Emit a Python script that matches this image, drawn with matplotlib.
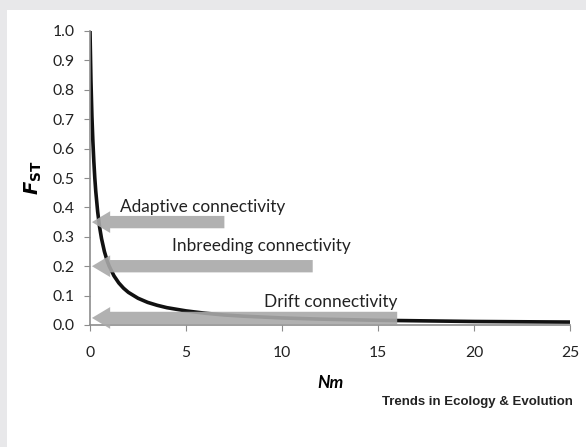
import matplotlib
matplotlib.use("Agg")
import matplotlib.pyplot as plt
from matplotlib.patches import FancyArrow

# values
nm = [0, 0.05, 0.1, 0.15, 0.2, 0.25, 0.3, 0.4, 0.5, 0.6, 0.75, 0.9, 1, 1.25, 1.5, 1.75,
      2, 2.5, 3, 3.5, 4, 5, 6, 7, 8, 10, 12, 15, 20, 25]
fst = [1.0, 0.83, 0.71, 0.625, 0.556, 0.5, 0.455, 0.385, 0.333, 0.294, 0.25, 0.217,
       0.2, 0.167, 0.143, 0.125, 0.111, 0.091, 0.077, 0.067, 0.059, 0.048, 0.04,
       0.034, 0.03, 0.024, 0.02, 0.016, 0.012, 0.01]

# arrows: label, Fst level, tail end (Nm), label position
arrow_labels = ["Adaptive connectivity", "Inbreeding connectivity", "Drift connectivity"]
arrow_levels = [0.35, 0.20, 0.024]
arrow_ends = [7.0, 11.6, 16.0]
label_x = [5.85, 8.9, 12.55]
label_y = [0.40, 0.27, 0.078]

xticks = [0, 5, 10, 15, 20, 25]
yticks = [0.0, 0.1, 0.2, 0.3, 0.4, 0.5, 0.6, 0.7, 0.8, 0.9, 1.0]

plt.rcParams['font.family'] = ['Lato', 'DejaVu Sans']

fig = plt.figure(figsize=(5.86, 4.47), dpi=100)
fig.patch.set_facecolor('#e8e8ea')

# white panel behind the plot
bg = fig.add_axes([7 / 586, 0, 1 - 7 / 586, 1 - 10 / 447], zorder=-1)
bg.set_facecolor('white')
bg.set_xticks([])
bg.set_yticks([])
for s in bg.spines.values():
    s.set_visible(False)

ax = fig.add_axes([90 / 586, 1 - 325 / 447, 480 / 586, 294 / 447])
ax.set_facecolor('none')

ax.plot(nm, fst, color='#111111', lw=2.6, zorder=2, solid_capstyle='butt')

for lab, lev, end, tx, ty in zip(arrow_labels, arrow_levels, arrow_ends, label_x, label_y):
    ar = FancyArrow(end, lev, -(end - 0.1), 0, width=0.042, head_width=0.074,
                    head_length=0.95, length_includes_head=True,
                    facecolor='#a9a9a9', edgecolor='none', alpha=0.9,
                    clip_on=False, zorder=3)
    ax.add_patch(ar)
    ax.text(tx, ty, lab, ha='center', va='center', fontsize=12.4, color='#222222')

ax.set_xlim(0, 25)
ax.set_ylim(0, 1.0)
ax.set_xticks(xticks)
ax.set_yticks(yticks)
ax.set_yticklabels(['%.1f' % v for v in yticks])
for s in ['top', 'right']:
    ax.spines[s].set_visible(False)
for s in ['left', 'bottom']:
    ax.spines[s].set_color('#8c8c8c')
    ax.spines[s].set_linewidth(1.2)
ax.tick_params(direction='out', length=4, color='#8c8c8c', labelsize=11.3,
               labelcolor='#222222', pad=7)
ax.tick_params(axis='x', pad=11)

ax.set_xlabel('Nm', fontsize=12.5, fontweight='bold', style='italic', labelpad=11)
ax.set_ylabel(r'$\mathbfit{F}_{\mathbf{ST}}$', fontsize=14, labelpad=6)

fig.text(573 / 586, 1 - 402 / 447, 'Trends in Ecology & Evolution', ha='right', va='center',
         fontsize=9.5, fontweight='bold', family=['Liberation Sans', 'DejaVu Sans'],
         color='#222222')

fig.savefig('out.png', dpi=100, facecolor=fig.get_facecolor())
